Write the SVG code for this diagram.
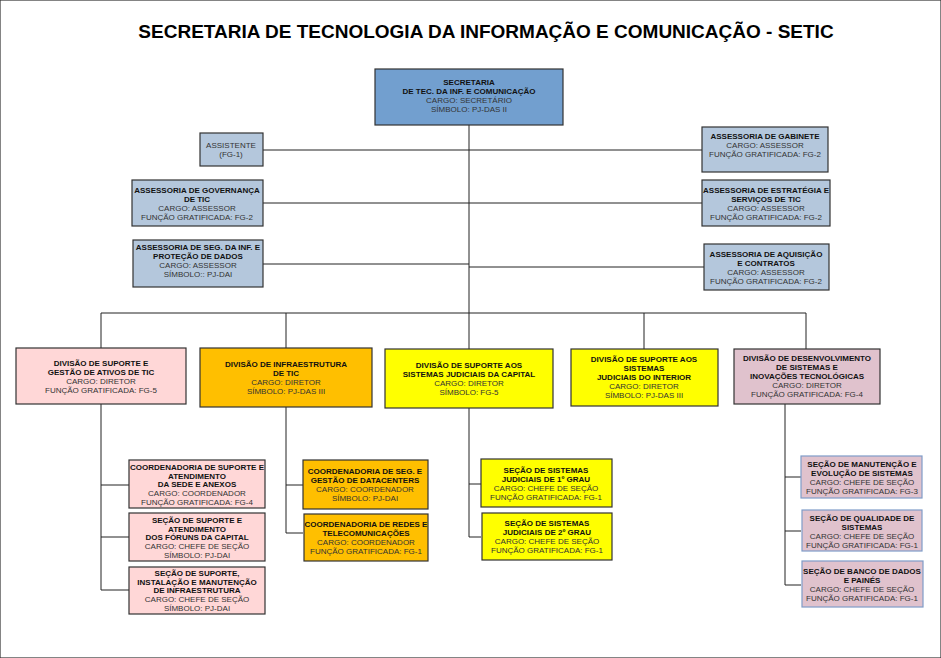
<svg xmlns="http://www.w3.org/2000/svg" width="941" height="658" viewBox="0 0 941 658">
<style>
text{font-family:"Liberation Sans",Arial,sans-serif;font-size:8px;text-anchor:middle;fill:#333}
.b{font-weight:bold;fill:#111}
.t{font-size:19px;font-weight:bold;fill:#000}
rect{stroke:#333;stroke-width:1.2}
.bl{fill:#b4c7dc}.top{fill:#729fcf}.pk{fill:#ffd7d7}.or{fill:#ffbf00}.ye{fill:#ffff00}.mv{fill:#e0c2cd}
.mv2{fill:#e0c2cd;stroke:#7f9cc8}
#c path{fill:none;stroke:#222;stroke-width:1}
</style>
<rect width="941" height="658" fill="#fff" stroke="none"/>
<text class="t" x="486" y="38">SECRETARIA DE TECNOLOGIA DA INFORMAÇÃO E COMUNICAÇÃO - SETIC</text>
<g id="c">
<path d="M469 125V313M263 150H469M263 203H469M263 264H469M469 150H702M469 203H702M469 267H704"/>
<path d="M101 313H806M101 313V348M286 313V348M469 313V349M644 313V349M806 313V349"/>
<path d="M101 404V590M101 485H129M101 537H129M101 590H129"/>
<path d="M286 407V533M286 485H303M286 533H303"/>
<path d="M469 408V537M469 484H481M469 537H481"/>
<path d="M785 404V585M785 477H801M785 531H801M785 585H801"/>
</g>
<g id="sec"><rect class="top" x="375" y="69" width="188" height="56"/><text class="b" x="469" y="85">SECRETARIA</text><text class="b" x="469" y="94">DE TEC. DA INF. E COMUNICAÇÃO</text><text x="469" y="103">CARGO: SECRETÁRIO</text><text x="469" y="112">SÍMBOLO: PJ-DAS II</text></g>
<g id="assist"><rect class="bl" x="200" y="133" width="63" height="33"/><text x="231" y="148">ASSISTENTE</text><text x="231" y="157">(FG-1)</text></g>
<g id="gov"><rect class="bl" x="132" y="180" width="131" height="46"/><text class="b" x="197" y="193">ASSESSORIA DE GOVERNANÇA</text><text class="b" x="197" y="202">DE TIC</text><text x="197" y="211">CARGO: ASSESSOR</text><text x="197" y="220">FUNÇÃO GRATIFICADA: FG-2</text></g>
<g id="seginf"><rect class="bl" x="133" y="240" width="130" height="47"/><text class="b" x="198" y="250">ASSESSORIA DE SEG. DA INF. E</text><text class="b" x="198" y="259">PROTEÇÃO DE DADOS</text><text x="198" y="268">CARGO: ASSESSOR</text><text x="198" y="277">SÍMBOLO:: PJ-DAI</text></g>
<g id="gab"><rect class="bl" x="702" y="127" width="126" height="45"/><text class="b" x="765" y="139">ASSESSORIA DE GABINETE</text><text x="765" y="148">CARGO: ASSESSOR</text><text x="765" y="157">FUNÇÃO GRATIFICADA: FG-2</text></g>
<g id="estr"><rect class="bl" x="702" y="180" width="128" height="46"/><text class="b" x="766" y="193">ASSESSORIA DE ESTRATÉGIA E</text><text class="b" x="766" y="202">SERVIÇOS DE TIC</text><text x="766" y="211">CARGO: ASSESSOR</text><text x="766" y="220">FUNÇÃO GRATIFICADA: FG-2</text></g>
<g id="aquis"><rect class="bl" x="704" y="244" width="125" height="46"/><text class="b" x="766" y="257">ASSESSORIA DE AQUISIÇÃO</text><text class="b" x="766" y="266">E CONTRATOS</text><text x="766" y="275">CARGO: ASSESSOR</text><text x="766" y="284">FUNÇÃO GRATIFICADA: FG-2</text></g>
<g id="d1"><rect class="pk" x="16" y="348" width="170" height="56"/><text class="b" x="101" y="366">DIVISÃO DE SUPORTE E</text><text class="b" x="101" y="375">GESTÃO DE ATIVOS DE TIC</text><text x="101" y="384">CARGO: DIRETOR</text><text x="101" y="393">FUNÇÃO GRATIFICADA: FG-5</text></g>
<g id="d2"><rect class="or" x="200" y="348" width="172" height="59"/><text class="b" x="286" y="367">DIVISÃO DE INFRAESTRUTURA</text><text class="b" x="286" y="376">DE TIC</text><text x="286" y="385">CARGO: DIRETOR</text><text x="286" y="394">SÍMBOLO: PJ-DAS III</text></g>
<g id="d3"><rect class="ye" x="385" y="349" width="168" height="59"/><text class="b" x="469" y="368">DIVISÃO DE SUPORTE AOS</text><text class="b" x="469" y="377">SISTEMAS JUDICIAIS DA CAPITAL</text><text x="469" y="386">CARGO: DIRETOR</text><text x="469" y="395">SÍMBOLO: FG-5</text></g>
<g id="d4"><rect class="ye" x="571" y="349" width="147" height="57"/><text class="b" x="644" y="362">DIVISÃO DE SUPORTE AOS</text><text class="b" x="644" y="371">SISTEMAS</text><text class="b" x="644" y="380">JUDICIAIS  DO INTERIOR</text><text x="644" y="389">CARGO: DIRETOR</text><text x="644" y="398">SÍMBOLO: PJ-DAS III</text></g>
<g id="d5"><rect class="mv" x="734" y="349" width="146" height="55"/><text class="b" x="807" y="361">DIVISÃO DE DESENVOLVIMENTO</text><text class="b" x="807" y="370">DE SISTEMAS E</text><text class="b" x="807" y="379">INOVAÇÕES TECNOLÓGICAS</text><text x="807" y="388">CARGO: DIRETOR</text><text x="807" y="397">FUNÇÃO GRATIFICADA: FG-4</text></g>
<g id="c11"><rect class="pk" x="129" y="460" width="136" height="48"/><text class="b" x="197" y="470">COORDENADORIA DE SUPORTE E</text><text class="b" x="197" y="479">ATENDIMENTO</text><text class="b" x="197" y="487">DA SEDE  E ANEXOS</text><text x="197" y="496">CARGO: COORDENADOR</text><text x="197" y="505">FUNÇÃO GRATIFICADA: FG-4</text></g>
<g id="c12"><rect class="pk" x="129" y="513" width="136" height="48"/><text class="b" x="197" y="523">SEÇÃO DE SUPORTE E</text><text class="b" x="197" y="532">ATENDIMENTO</text><text class="b" x="197" y="540">DOS FÓRUNS DA CAPITAL</text><text x="197" y="549">CARGO: CHEFE DE SEÇÃO</text><text x="197" y="558">SÍMBOLO: PJ-DAI</text></g>
<g id="c13"><rect class="pk" x="129" y="567" width="136" height="47"/><text class="b" x="197" y="576">SEÇÃO DE SUPORTE,</text><text class="b" x="197" y="585">INSTALAÇÃO E MANUTENÇÃO</text><text class="b" x="197" y="593">DE INFRAESTRUTURA</text><text x="197" y="602">CARGO: CHEFE DE SEÇÃO</text><text x="197" y="611">SÍMBOLO: PJ-DAI</text></g>
<g id="c21"><rect class="or" x="303" y="460" width="125" height="49"/><text class="b" x="365" y="474">COORDENADORIA DE SEG. E</text><text class="b" x="365" y="483">GESTÃO DE DATACENTERS</text><text x="365" y="492">CARGO: COORDENADOR</text><text x="365" y="501">SÍMBOLO: PJ-DAI</text></g>
<g id="c22"><rect class="or" x="304" y="514" width="124" height="47"/><text class="b" x="366" y="527">COORDENADORIA DE REDES E</text><text class="b" x="366" y="536">TELECOMUNICAÇÕES</text><text x="366" y="545">CARGO: COORDENADOR</text><text x="366" y="554">FUNÇÃO GRATIFICADA: FG-1</text></g>
<g id="c31"><rect class="ye" x="481" y="459" width="131" height="48"/><text class="b" x="546" y="473">SEÇÃO DE SISTEMAS</text><text class="b" x="546" y="482">JUDICIAIS DE 1º GRAU</text><text x="546" y="491">CARGO: CHEFE DE SEÇÃO</text><text x="546" y="500">FUNÇÃO GRATIFICADA: FG-1</text></g>
<g id="c32"><rect class="ye" x="482" y="513" width="130" height="47"/><text class="b" x="547" y="526">SEÇÃO DE SISTEMAS</text><text class="b" x="547" y="535">JUDICIAIS DE 2º GRAU</text><text x="547" y="544">CARGO: CHEFE DE SEÇÃO</text><text x="547" y="553">FUNÇÃO GRATIFICADA: FG-1</text></g>
<g id="c51"><rect class="mv2" x="801" y="456" width="121" height="42"/><text class="b" x="862" y="467">SEÇÃO DE MANUTENÇÃO E</text><text class="b" x="862" y="476">EVOLUÇÃO DE SISTEMAS</text><text x="862" y="485">CARGO: CHEFE DE SEÇÃO</text><text x="862" y="494">FUNÇÃO GRATIFICADA: FG-3</text></g>
<g id="c52"><rect class="mv2" x="802" y="510" width="120" height="41"/><text class="b" x="862" y="521">SEÇÃO DE QUALIDADE DE</text><text class="b" x="862" y="530">SISTEMAS</text><text x="862" y="539">CARGO: CHEFE DE SEÇÃO</text><text x="862" y="548">FUNÇÃO GRATIFICADA: FG-1</text></g>
<g id="c53"><rect class="mv2" x="802" y="561" width="121" height="46"/><text class="b" x="862" y="574">SEÇÃO DE  BANCO DE DADOS</text><text class="b" x="862" y="583">E PAINÉS</text><text x="862" y="592">CARGO: CHEFE DE SEÇÃO</text><text x="862" y="601">FUNÇÃO GRATIFICADA: FG-1</text></g>
</svg>
